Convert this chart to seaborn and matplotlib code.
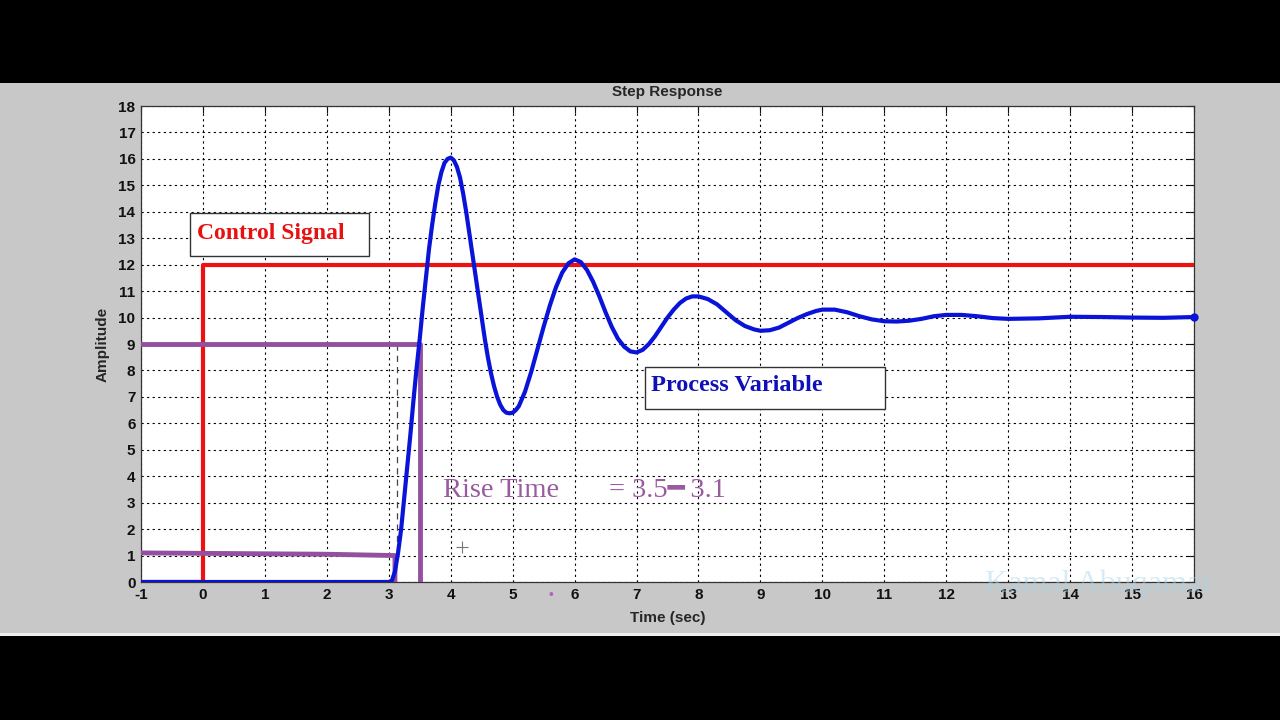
import matplotlib
matplotlib.use("Agg")
import matplotlib.pyplot as plt
import seaborn as sns
import pandas as pd
from matplotlib.patches import Rectangle

# ---- data ----
pv_time = [-1.0, 0.0, 1.0, 2.0, 3.0, 3.05, 3.1, 3.15, 3.2, 3.25, 3.3, 3.35, 3.4, 3.45, 3.5,
           3.55, 3.6, 3.65, 3.7, 3.75, 3.8, 3.85, 3.9, 3.95, 4.0, 4.05, 4.1, 4.15, 4.2,
           4.25, 4.3, 4.35, 4.4, 4.45, 4.5, 4.55, 4.6, 4.65, 4.7, 4.75, 4.8, 4.85, 4.9,
           4.95, 5.0, 5.05, 5.1, 5.2, 5.3, 5.4, 5.5, 5.6, 5.7, 5.8, 5.9, 6.0, 6.1, 6.2,
           6.3, 6.4, 6.5, 6.6, 6.7, 6.8, 6.9, 7.0, 7.1, 7.2, 7.3, 7.4, 7.5, 7.6, 7.7,
           7.8, 7.9, 8.0, 8.15, 8.3, 8.45, 8.6, 8.75, 8.9, 9.0, 9.15, 9.3, 9.45, 9.6,
           9.75, 9.9, 10.0, 10.2, 10.4, 10.6, 10.8, 11.0, 11.2, 11.4, 11.6, 11.8, 12.0,
           12.25, 12.5, 12.75, 13.0, 13.5, 14.0, 14.5, 15.0, 15.5, 16.0]
pv_value = [0.0, 0.0, 0.0, 0.0, 0.0, 0.05, 0.4, 1.1, 2.0, 3.2, 4.4, 5.6, 6.9, 8.1, 9.2,
            10.4, 11.5, 12.6, 13.5, 14.3, 15.0, 15.5, 15.85, 16.0, 16.05, 15.95, 15.7, 15.3, 14.7,
            14.0, 13.2, 12.4, 11.6, 10.8, 10.0, 9.2, 8.5, 7.9, 7.4, 7.0, 6.7, 6.5, 6.4,
            6.38, 6.4, 6.5, 6.65, 7.2, 7.95, 8.8, 9.65, 10.45, 11.15, 11.7, 12.05, 12.2, 12.1, 11.8,
            11.35, 10.8, 10.2, 9.65, 9.2, 8.9, 8.72, 8.68, 8.78, 9.0, 9.3, 9.65, 10.0, 10.3, 10.55,
            10.72, 10.8, 10.8, 10.7, 10.5, 10.2, 9.9, 9.68, 9.55, 9.5, 9.52, 9.62, 9.8, 9.98,
            10.13, 10.25, 10.3, 10.3, 10.2, 10.05, 9.93, 9.86, 9.85, 9.88, 9.95, 10.05, 10.1,
            10.1, 10.05, 9.98, 9.95, 9.97, 10.03, 10.02, 10.0, 9.99, 10.02]

cs_time = [-1.0, 0.0, 0.0, 16.0]
cs_value = [0.0, 0.0, 12.0, 12.0]

rise_hi_time = [-1.0, 3.5, 3.5]
rise_hi_value = [9.0, 9.0, 0.0]
rise_lo_time = [-1.0, 2.0, 3.1, 3.1]
rise_lo_value = [1.1, 1.05, 1.0, 0.0]
rise_guide_time = [3.13, 3.13]
rise_guide_value = [9.0, 1.0]

x_ticks = list(range(-1, 17))
y_ticks = list(range(0, 19))

title = "Step Response"
x_label = "Time (sec)"
y_label = "Amplitude"
control_label = "Control Signal"
process_label = "Process Variable"
rise_label = "Rise Time       = 3.5\u2501\u20093.1"
watermark = "Kamal Abuqamar"

# ---- figure ----
sns.set_style("white")
plt.rcParams['font.family'] = ['Liberation Sans', 'DejaVu Sans']

fig = plt.figure(figsize=(12.8, 7.2), dpi=100)
fig.patch.set_facecolor("black")
fig.patches.append(Rectangle((0, 1 - 636 / 720), 1, (636 - 83) / 720,
                             transform=fig.transFigure, facecolor="#c8c8c8",
                             edgecolor="none", zorder=-2))
fig.patches.append(Rectangle((0, 1 - 636 / 720), 1, 3 / 720,
                             transform=fig.transFigure, facecolor="#eeeeee",
                             edgecolor="none", zorder=-1))

ax = fig.add_axes([141 / 1280, 1 - 582 / 720, (1194 - 141) / 1280, (582 - 106) / 720])
ax.set_zorder(1)
ax.set_facecolor("white")

purple = "#9450a0"
red = "#ee1111"
blue = "#0a14d8"

df_pv = pd.DataFrame({"t": pv_time, "y": pv_value})
sns.lineplot(data=df_pv, x="t", y="y", ax=ax, color=blue, lw=3, sort=False,
             estimator=None, zorder=4)
ax.plot([pv_time[-1]], [pv_value[-1]], "o", color=blue, ms=5, zorder=5, clip_on=False)

df_cs = pd.DataFrame({"t": cs_time, "y": cs_value})
sns.lineplot(data=df_cs, x="t", y="y", ax=ax, color=red, lw=3, sort=False,
             estimator=None, zorder=3)

df_hi = pd.DataFrame({"t": rise_hi_time, "y": rise_hi_value})
sns.lineplot(data=df_hi, x="t", y="y", ax=ax, color=purple, lw=3.5, sort=False,
             estimator=None, zorder=3)
df_lo = pd.DataFrame({"t": rise_lo_time, "y": rise_lo_value})
sns.lineplot(data=df_lo, x="t", y="y", ax=ax, color=purple, lw=3.5, sort=False,
             estimator=None, zorder=3)
ax.plot(rise_guide_time, rise_guide_value, color="#444444", lw=0.9, ls=(0, (5, 4)), zorder=2)

ax.set_xlim(-1, 16)
ax.set_ylim(0, 18)
ax.set_xticks(x_ticks)
ax.set_yticks(y_ticks)
ax.set_xticklabels([str(v) for v in x_ticks], fontsize=11, fontweight="bold", color="#111111")
ax.set_yticklabels([str(v) for v in y_ticks], fontsize=11, fontweight="bold", color="#111111")
ax.tick_params(direction="in", length=5, width=0.8, top=True, right=True, pad=4, colors="#111111")
ax.grid(True, color="black", ls=(0, (2, 3)), lw=0.8)
for s in ax.spines.values():
    s.set_color("#333333")
    s.set_linewidth(0.9)

ax.set_title(title, fontsize=11, fontweight="bold", pad=7)
ax.set_xlabel(x_label, fontsize=11, fontweight="bold", labelpad=7)
ax.set_ylabel(y_label, fontsize=11, fontweight="bold", labelpad=6)
if ax.legend_ is not None:
    ax.legend_.remove()

# annotation boxes
ax.add_patch(Rectangle((-0.209, 12.33), 2.89, 1.63, facecolor="white",
                       edgecolor="#333333", lw=1, zorder=5))
ax.text(-0.096, 13.16, control_label, family=["Liberation Serif"], fontsize=17,
        fontweight="bold", color="#e81010", va="center", ha="left", zorder=6)
ax.add_patch(Rectangle((7.137, 6.54), 3.875, 1.59, facecolor="white",
                       edgecolor="#333333", lw=1, zorder=5))
ax.text(7.234, 7.42, process_label, family=["Liberation Serif"], fontsize=17.5,
        fontweight="bold", color="#1010b8", va="center", ha="left", zorder=6)
ax.text(3.88, 3.45, rise_label, family=["Liberation Serif", "DejaVu Serif"], fontsize=20.5,
        color="#9a5aa0", va="center", ha="left", zorder=6)

# small cursor mark and dot
ax.plot([4.18], [1.32], marker="+", color="#777777", ms=8, mew=0.8, zorder=6)
fig.text(551 / 1280, 1 - 595 / 720, "\u2022", color="#b060c0", fontsize=10, ha="center", va="center")

# watermark
fig.text(1098 / 1280, 1 - 584 / 720, watermark, family=["Liberation Serif"], fontsize=23,
         color="#a8d4e8", alpha=0.45, ha="center", va="center", zorder=10)

fig.savefig("out.png", dpi=100, facecolor=fig.get_facecolor())
